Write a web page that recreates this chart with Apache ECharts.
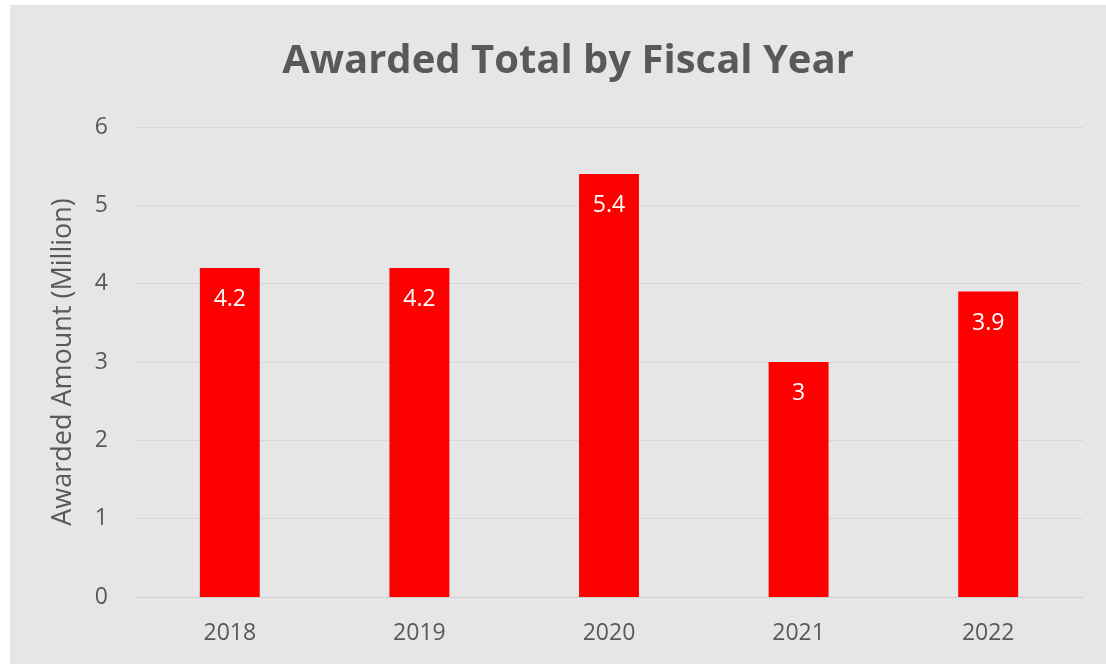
<!DOCTYPE html>
<html>
<head>
<meta charset="utf-8">
<script src="https://cdn.jsdelivr.net/npm/echarts@6/dist/echarts.min.js"></script>
<style>
  html, body { margin: 0; padding: 0; background: #ffffff; }
  #chart { position: absolute; left: 10px; top: 5px; width: 1096px; height: 659px; }
</style>
</head>
<body>
<div id="chart"></div>
<script>
  // fiscal years and awarded totals (million)
  const years = ['2018', '2019', '2020', '2021', '2022']
  const awarded = [4.2, 4.2, 5.4, 3, 3.9]

  const chart = echarts.init(document.getElementById('chart'))
  chart.setOption({
    backgroundColor: '#e6e6e6',
    animation: false,
    title: {
      text: 'Awarded Total by Fiscal Year',
      left: 553,
      textAlign: 'center',
      top: 32,
      textStyle: {
        fontFamily: 'Open Sans',
        fontSize: 40,
        fontWeight: 'bold',
        color: '#595959'
      }
    },
    grid: {
      left: 125,
      right: 23,
      top: 122,
      bottom: 67
    },
    xAxis: {
      type: 'category',
      data: years,
      axisLine: { lineStyle: { color: '#d0d0d0', width: 1 } },
      axisTick: { show: false },
      axisLabel: {
        margin: 25,
        fontFamily: 'Open Sans',
        fontSize: 23,
        color: '#595959'
      }
    },
    yAxis: {
      type: 'value',
      min: 0,
      max: 6,
      interval: 1,
      name: 'Awarded Amount (Million)',
      nameLocation: 'middle',
      nameGap: 58,
      nameTextStyle: {
        fontFamily: 'Open Sans',
        fontSize: 27,
        color: '#595959'
      },
      axisLine: { show: false },
      axisTick: { show: false },
      splitLine: { lineStyle: { color: '#d6d6d6', width: 1 } },
      axisLabel: {
        margin: 27,
        fontFamily: 'Open Sans',
        fontSize: 23,
        color: '#595959'
      }
    },
    series: [{
      type: 'bar',
      data: awarded,
      barWidth: '31.6%',
      itemStyle: { color: '#ff0000' },
      label: {
        show: true,
        position: 'insideTop',
        distance: 20,
        fontFamily: 'Open Sans',
        fontSize: 23,
        color: '#ffffff'
      }
    }]
  })
</script>
</body>
</html>
